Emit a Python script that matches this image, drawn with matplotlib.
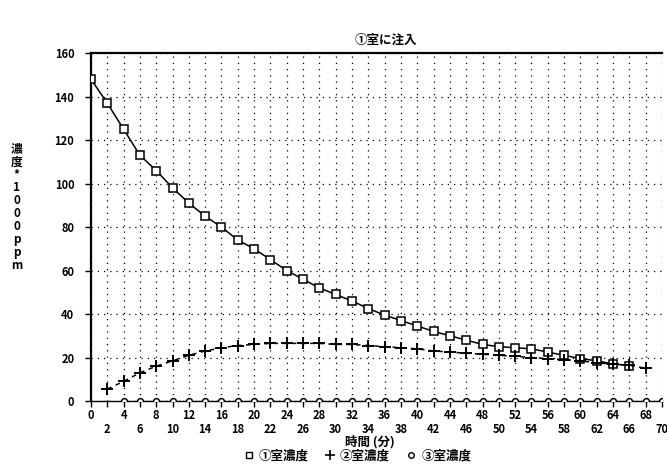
import numpy as np
import matplotlib
matplotlib.use('Agg')
import matplotlib.pyplot as plt
from matplotlib.lines import Line2D

plt.rcParams['font.family'] = ['Noto Sans CJK JP', 'DejaVu Sans']

# 時間 (分)
t1 = np.arange(0, 68, 2)
t2 = np.arange(2, 70, 2)
t3 = np.arange(4, 72, 2)

# 濃度*1000ppm
room1 = [148, 137, 125, 113, 106, 98, 91, 85, 80, 74, 70, 65, 60, 56, 52, 49, 46,
         42.5, 39.5, 37, 34.5, 32, 30, 28, 26, 25, 24.5, 24, 22.5, 21, 19.5, 18.5, 17, 16.3]
room2 = [5.5, 9, 13, 16, 18.5, 21, 23, 24.5, 25.5, 26, 26.5, 26.5, 26.5, 26.5, 26,
         26, 25.5, 25, 24.5, 24, 23, 22.5, 22, 21.5, 21, 20.5, 20, 19.5, 19, 18.5,
         17.5, 17, 16.5, 15]
room3 = [0] * len(t3)

labels = ['①室濃度', '②室濃度', '③室濃度']

fig = plt.figure(figsize=(6.67, 4.66), dpi=100)
ax = fig.add_axes([0.1364, 0.1395, 0.8561, 0.7465])

ax.plot(t1, room1, color='black', lw=1.1, marker='s', ms=5.5, mfc='white', mew=1.1, zorder=4)
ax.plot(t2, room2, color='black', lw=1.1, ls=(0, (3, 3)), marker='+', ms=8, mew=1.4, zorder=4)
ax.plot(t3, room3, color='black', lw=1.0, ls=(0, (1, 2)), marker='o', ms=4.2, mfc='white', mew=1.1, zorder=4)

ax.set_xlim(0, 70)
ax.set_ylim(0, 160)

xt = np.arange(0, 72, 2)
ax.set_xticks(xt)
ax.set_xticklabels([str(v) if v % 4 == 0 else '\n' + str(v) for v in xt],
                   fontsize=8, fontweight='bold', linespacing=1.05)
ax.set_yticks(np.arange(0, 161, 20))
ax.set_yticklabels([str(v) for v in range(0, 161, 20)], fontsize=8, fontweight='bold')
ax.tick_params(axis='both', direction='out', length=4, width=1, pad=2)
ax.tick_params(axis='y', pad=8)

ax.grid(True, color='black', lw=0.9, ls=(0, (1, 4)))
ax.spines['left'].set_linewidth(1.6)
ax.spines['bottom'].set_linewidth(1.0)
ax.spines['top'].set_linewidth(1.6)
ax.spines['right'].set_visible(False)

ax.set_title('①室に注入', fontsize=9, fontweight='bold', pad=7, x=0.517)
fig.text(0.555, 0.052, '時間 (分)', fontsize=9, fontweight='bold', ha='center', va='center')

ylab = ['濃', '度', '*', '1', '0', '0', '0', 'p', 'p', 'm']
fig.text(0.025, 0.555, '\n'.join(ylab), fontsize=8.5, fontweight='bold',
         ha='center', va='center', linespacing=1.0)

handles = [Line2D([], [], ls='none', marker='s', ms=5, mfc='white', mec='black', mew=1),
           Line2D([], [], ls='none', marker='+', ms=7, mec='black', mew=1.2),
           Line2D([], [], ls='none', marker='o', ms=4, mfc='white', mec='black', mew=1)]
leg = fig.legend(handles, labels, loc='center', bbox_to_anchor=(0.535, 0.022), ncol=3,
                 frameon=False, handlelength=1.0, handletextpad=0.3, columnspacing=1.2,
                 borderpad=0, prop={'size': 9, 'weight': 'bold'})

fig.savefig('out.png', dpi=100)
